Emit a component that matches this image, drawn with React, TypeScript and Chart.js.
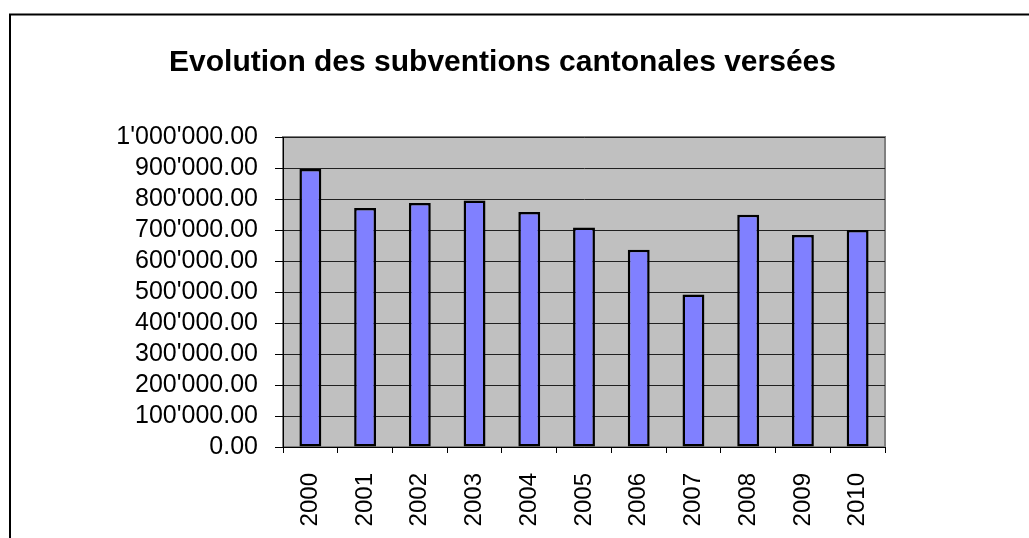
import React, { useEffect, useRef } from "react";
import { Chart, registerables } from "chart.js";

Chart.register(...registerables);

const categories = ["2000", "2001", "2002", "2003", "2004", "2005", "2006", "2007", "2008", "2009", "2010"];
const subventions = [897000, 771000, 787000, 795000, 758000, 708000, 636000, 492000, 749000, 684000, 700000];
const yMin = 0;
const yMax = 1000000;
const yStep = 100000;
const titleText = "Evolution des subventions cantonales versées";

function formatSwiss(v: number): string {
  const [intPart, dec] = Math.abs(v).toFixed(2).split(".");
  const withSep = intPart.replace(/\B(?=(\d{3})+(?!\d))/g, "'");
  return (v < 0 ? "-" : "") + withSep + "." + dec;
}

const FONT = "'Liberation Sans', Arial, sans-serif";

const plotBackground = {
  id: "plotBackground",
  beforeDraw(chart: any) {
    const { ctx, chartArea } = chart;
    if (!chartArea) return;
    ctx.save();
    ctx.fillStyle = "#C0C0C0";
    ctx.fillRect(chartArea.left, chartArea.top, chartArea.right - chartArea.left, chartArea.bottom - chartArea.top);
    ctx.strokeStyle = "#808080";
    ctx.lineWidth = 2;
    ctx.strokeRect(chartArea.left, chartArea.top, chartArea.right - chartArea.left, chartArea.bottom - chartArea.top);
    ctx.restore();
  },
  afterDraw(chart: any) {
    const { ctx, width, height } = chart;
    ctx.save();
    ctx.strokeStyle = "#000";
    ctx.lineWidth = 2;
    ctx.beginPath();
    ctx.moveTo(10, height);
    ctx.lineTo(10, 14.5);
    ctx.lineTo(width, 14.5);
    ctx.stroke();
    ctx.restore();
  },
};

export default function App() {
  const ref = useRef<HTMLCanvasElement | null>(null);
  useEffect(() => {
    document.body.style.margin = "0";
    document.body.style.overflow = "hidden";
    if (!ref.current) return;
    const chart = new Chart(ref.current, {
      type: "bar",
      data: {
        labels: categories,
        datasets: [
          {
            label: "Subventions",
            data: subventions,
            backgroundColor: "#8080FF",
            borderColor: "#000000",
            borderWidth: 2.5,
            borderSkipped: false,
            categoryPercentage: 1,
            barPercentage: 0.4,
          },
        ],
      },
      options: {
        animation: false,
        responsive: false,
        devicePixelRatio: 1,
        layout: { padding: { left: 0, right: 24, top: 0, bottom: 0 } },
        plugins: {
          legend: { display: false },
          tooltip: { enabled: false },
          title: {
            display: true,
            text: titleText,
            color: "#000",
            font: { family: FONT, size: 30, weight: "bold" },
            padding: { top: 45, bottom: 56 },
          },
        },
        scales: {
          x: {
            offset: true,
            grid: {
              display: true,
              drawOnChartArea: false,
              drawTicks: true,
              tickLength: 6,
              tickColor: "#000",
              offset: true,
            },
            border: { display: true, color: "#000", width: 1 },
            ticks: {
              color: "#000",
              font: { family: FONT, size: 24 },
              minRotation: 90,
              maxRotation: 90,
              padding: 20,
              autoSkip: false,
            },
            afterFit(scale: any) {
              scale.height = 91;
            },
          },
          y: {
            min: yMin,
            max: yMax,
            grid: {
              color: "#202020",
              lineWidth: 1,
              tickLength: 8,
              tickColor: "#000",
            },
            border: { display: true, color: "#000", width: 1 },
            ticks: {
              stepSize: yStep,
              autoSkip: false,
              color: "#000",
              font: { family: FONT, size: 25 },
              padding: 17,
              callback: (v: any) => formatSwiss(Number(v)),
            },
            afterFit(scale: any) {
              scale.width = 283;
            },
          },
          yRight: {
            type: "linear",
            position: "right",
            display: true,
            grid: { display: false, drawTicks: false },
            border: { display: false },
            ticks: { display: false },
            afterFit(scale: any) {
              scale.width = 120;
            },
          },
        },
      } as any,
      plugins: [plotBackground],
    });
    return () => chart.destroy();
  }, []);
  return (
    <div style={{ width: 1029, height: 538, background: "#fff" }}>
      <canvas ref={ref} width={1029} height={538} style={{ display: "block" }} />
    </div>
  );
}
